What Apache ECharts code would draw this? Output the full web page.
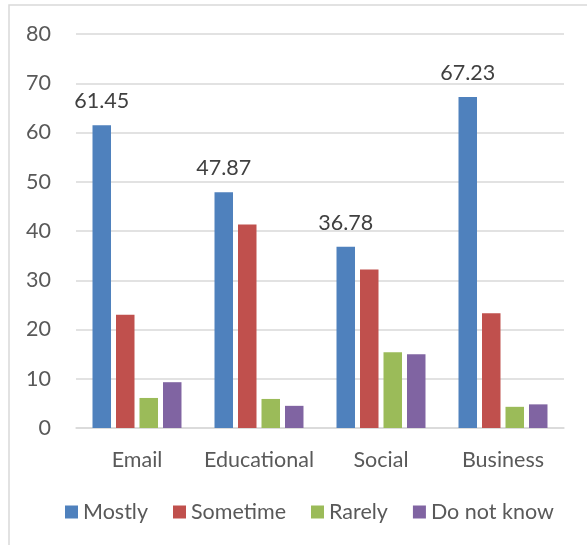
<!DOCTYPE html>
<html>
<head>
<meta charset="utf-8">
<script src="https://cdn.jsdelivr.net/npm/echarts@6/dist/echarts.min.js"></script>
<style>
html,body{margin:0;padding:0;background:#fff;}
#chart{width:587px;height:545px;}
</style>
</head>
<body>
<div id="chart"></div>
<script>
const categories = ['Email', 'Educational', 'Social', 'Business'];
const mostly = [61.45, 47.87, 36.78, 67.23];
const sometime = [23.0, 41.3, 32.2, 23.3];
const rarely = [6.1, 5.9, 15.4, 4.3];
const doNotKnow = [9.3, 4.5, 15.0, 4.8];
const yTicks = [0, 10, 20, 30, 40, 50, 60, 70, 80];

const FONT = 'Lato, "Open Sans", sans-serif';
const FS = 21.5;
const chart = echarts.init(document.getElementById('chart'));
function bar(name, data, color, label) {
  return {
    name: name, type: 'bar', data: data,
    barWidth: 18.5, barGap: '27%',
    itemStyle: { color: color },
    label: label ? { show: true, position: 'top', distance: 13, color: '#404040', fontSize: FS, fontFamily: FONT } : { show: false }
  };
}
chart.setOption({
  animation: false,
  textStyle: { fontFamily: FONT },
  graphic: [{ type: 'rect', shape: { x: 9, y: 5, width: 700, height: 700 }, style: { fill: 'none', stroke: '#d9d9d9', lineWidth: 1.5 }, silent: true }],
  grid: { left: 76, right: 23, top: 34, bottom: 117 },
  legend: {
    bottom: 17, left: 60, itemWidth: 13, itemHeight: 13, itemGap: 25,
    icon: 'rect',
    textStyle: { fontSize: FS, color: '#595959', fontFamily: FONT }
  },
  xAxis: {
    type: 'category', data: categories,
    axisLine: { lineStyle: { color: '#d9d9d9', width: 1.5 } },
    axisTick: { show: false },
    axisLabel: { fontSize: FS, color: '#595959', margin: 21, fontFamily: FONT, interval: 0, hideOverlap: false }
  },
  yAxis: {
    type: 'value', min: yTicks[0], max: yTicks[yTicks.length - 1], interval: 10,
    axisLine: { show: false }, axisTick: { show: false },
    splitLine: { lineStyle: { color: '#d9d9d9', width: 1.5 } },
    axisLabel: { fontSize: FS, color: '#595959', margin: 25, fontFamily: FONT }
  },
  series: [
    bar('Mostly', mostly, '#4F81BD', true),
    bar('Sometime', sometime, '#C0504D', false),
    bar('Rarely', rarely, '#9BBB59', false),
    bar('Do not know', doNotKnow, '#8064A2', false)
  ]
});
</script>
</body>
</html>
